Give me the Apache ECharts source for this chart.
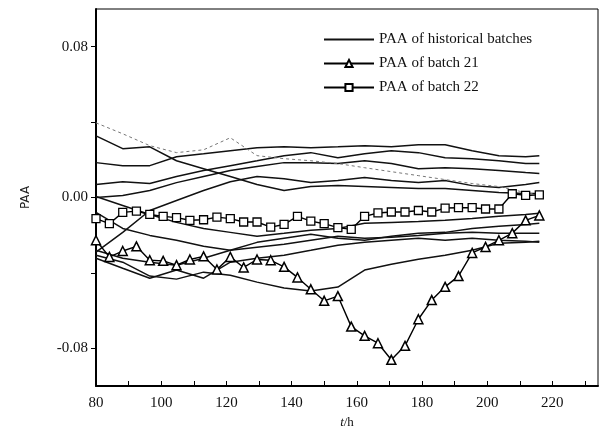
<!DOCTYPE html>
<html>
<head>
<meta charset="utf-8">
<script src="https://cdn.jsdelivr.net/npm/echarts@6/dist/echarts.min.js"></script>
<style>
  html, body { margin: 0; padding: 0; background: #fff; }
  #chart { width: 600px; height: 435px; }
</style>
</head>
<body>
<div id="chart"></div>
<script>
// time points (h) of batches 21 / 22
const times = [80, 84.1, 88.2, 92.4, 96.5, 100.6, 104.7, 108.8, 113, 117.1, 121.2, 125.3,
  129.4, 133.6, 137.7, 141.8, 145.9, 150, 154.2, 158.3, 162.4, 166.5, 170.6, 174.8,
  178.9, 183, 187.1, 191.2, 195.4, 199.5, 203.6, 207.7, 211.8, 216];

const batch21 = [-0.0227, -0.0315, -0.0284, -0.0259, -0.0333, -0.0336, -0.0359, -0.0329,
  -0.0312, -0.0382, -0.0315, -0.0371, -0.0329, -0.0333, -0.0368, -0.0424, -0.0487, -0.0548,
  -0.0523, -0.0685, -0.0734, -0.0773, -0.0861, -0.0787, -0.0646, -0.0544, -0.0474, -0.0417,
  -0.0294, -0.0262, -0.0227, -0.0189, -0.0121, -0.0095];

const batch22 = [-0.0112, -0.0139, -0.0079, -0.0072, -0.0090, -0.0100, -0.0107, -0.0121,
  -0.0118, -0.0104, -0.0112, -0.0130, -0.0130, -0.0157, -0.0143, -0.0100, -0.0125, -0.0139,
  -0.0160, -0.0169, -0.0100, -0.0082, -0.0077, -0.0077, -0.0069, -0.0077, -0.0056, -0.0054,
  -0.0054, -0.0061, -0.0061, 0.0020, 0.0011, 0.0014];

// historical batches, sampled more coarsely
const histTimes = [80, 88.2, 96.5, 104.7, 113, 121.2, 129.4, 137.7, 145.9, 154.2, 162.4,
  170.6, 178.9, 187.1, 195.4, 203.6, 211.8, 216];

const historical = [
  [0.0327, 0.0259, 0.0269, 0.0195, 0.0153, 0.0111, 0.0069, 0.0037, 0.0058, 0.0063, 0.0058, 0.0053, 0.0048, 0.0048, 0.0037, 0.0026, 0.0021, 0.0021],
  [0.0185, 0.0169, 0.0169, 0.0216, 0.0232, 0.0248, 0.0264, 0.0269, 0.0264, 0.0269, 0.0275, 0.0269, 0.0280, 0.0280, 0.0248, 0.0222, 0.0216, 0.0222],
  [0.0069, 0.0084, 0.0074, 0.0111, 0.0143, 0.0169, 0.0195, 0.0222, 0.0238, 0.0211, 0.0232, 0.0248, 0.0238, 0.0211, 0.0206, 0.0195, 0.0180, 0.0180],
  [0.0000, 0.0011, 0.0037, 0.0079, 0.0111, 0.0143, 0.0164, 0.0185, 0.0185, 0.0180, 0.0195, 0.0180, 0.0153, 0.0158, 0.0153, 0.0143, 0.0132, 0.0127],
  [-0.0290, -0.0185, -0.0069, -0.0016, 0.0037, 0.0084, 0.0111, 0.0100, 0.0079, 0.0090, 0.0106, 0.0090, 0.0079, 0.0090, 0.0063, 0.0053, 0.0069, 0.0079],
  [0.0005, -0.0042, -0.0090, -0.0132, -0.0164, -0.0185, -0.0206, -0.0190, -0.0174, -0.0164, -0.0137, -0.0132, -0.0127, -0.0121, -0.0111, -0.0100, -0.0090, -0.0084],
  [-0.0079, -0.0164, -0.0201, -0.0227, -0.0259, -0.0280, -0.0238, -0.0216, -0.0195, -0.0216, -0.0227, -0.0206, -0.0190, -0.0185, -0.0164, -0.0153, -0.0143, -0.0137],
  [-0.0280, -0.0322, -0.0343, -0.0359, -0.0322, -0.0280, -0.0264, -0.0248, -0.0227, -0.0206, -0.0216, -0.0211, -0.0201, -0.0190, -0.0185, -0.0190, -0.0190, -0.0190],
  [-0.0306, -0.0343, -0.0417, -0.0433, -0.0396, -0.0412, -0.0449, -0.0480, -0.0496, -0.0475, -0.0385, -0.0354, -0.0327, -0.0306, -0.0280, -0.0243, -0.0238, -0.0232],
  [-0.0322, -0.0375, -0.0428, -0.0385, -0.0428, -0.0343, -0.0322, -0.0306, -0.0280, -0.0253, -0.0238, -0.0227, -0.0216, -0.0227, -0.0216, -0.0227, -0.0232, -0.0238]
];

// the thin grey dotted historical batch
const histDotted = [0.0396, 0.0338, 0.0275, 0.0238, 0.0253, 0.0317, 0.0222, 0.0206, 0.0195,
  0.0180, 0.0158, 0.0137, 0.0116, 0.0095, 0.0074, 0.0058, 0.0026, 0.0016];

const xLabels = [80, 100, 120, 140, 160, 180, 200, 220];
const xTicks = [80, 90, 100, 110, 120, 130, 140, 150, 160, 170, 180, 190, 200, 210, 220, 230];
const yLabels = [-0.08, 0, 0.08];
const yTicks = [-0.08, -0.04, 0, 0.04, 0.08];

const HIST = 'PAA of historical batches';
const B21 = 'PAA of batch 21';
const B22 = 'PAA of batch 22';
const serif = '"Liberation Serif", "DejaVu Serif", serif';

const pair = (xs, ys) => xs.map((x, i) => [x, ys[i]]);

const series = [];
historical.forEach(vals => {
  series.push({
    name: HIST, type: 'line', symbol: 'none', silent: true,
    data: pair(histTimes, vals),
    lineStyle: { color: '#111', width: 1.5 },
    itemStyle: { color: 'rgba(0,0,0,0)', borderWidth: 0 }
  });
});
series.push({
  name: HIST, type: 'line', symbol: 'none', silent: true,
  data: pair(histTimes, histDotted),
  lineStyle: { color: '#777', width: 1, type: [3, 3] },
  itemStyle: { color: 'rgba(0,0,0,0)', borderWidth: 0 }
});
series.push({
  name: B21, type: 'line', symbol: 'triangle', symbolSize: 9,
  data: pair(times, batch21),
  lineStyle: { color: '#000', width: 1.4 },
  itemStyle: { color: '#fff', borderColor: '#000', borderWidth: 1.5 }
});
series.push({
  name: B22, type: 'line', symbol: 'rect', symbolSize: 8,
  data: pair(times, batch22),
  lineStyle: { color: '#000', width: 1.4 },
  itemStyle: { color: '#fff', borderColor: '#000', borderWidth: 1.3 }
});

const chart = echarts.init(document.getElementById('chart'));
chart.setOption({
  animation: false,
  backgroundColor: '#fff',
  grid: { left: 96, right: 2, top: 9, bottom: 49, show: true, borderColor: '#000', borderWidth: 1 },
  legend: {
    data: [HIST, B21, B22],
    orient: 'vertical',
    left: 318, top: 27,
    itemWidth: 50, itemHeight: 9, itemGap: 9,
    textStyle: { fontFamily: serif, fontSize: 15, color: '#111' }
  },
  xAxis: {
    type: 'value', min: 80, max: 234,
    name: '{i|t}/h', nameLocation: 'middle', nameGap: 30,
    nameTextStyle: {
      fontFamily: serif, fontSize: 13, color: '#111',
      rich: { i: { fontStyle: 'italic', fontFamily: serif, fontSize: 13 } }
    },
    axisLine: { onZero: false, lineStyle: { color: '#000', width: 2 } },
    axisTick: { inside: true, length: 5, customValues: xTicks, lineStyle: { color: '#000' } },
    axisLabel: { customValues: xLabels, margin: 10, fontFamily: serif, fontSize: 15, color: '#111' },
    splitLine: { show: false }
  },
  yAxis: {
    type: 'value', min: -0.1, max: 0.1,
    name: 'PAA', nameLocation: 'middle', nameGap: 64, nameRotate: 90,
    nameTextStyle: { fontFamily: 'DejaVu Sans, sans-serif', fontSize: 12, color: '#222' },
    axisLine: { onZero: false, lineStyle: { color: '#000', width: 2 } },
    axisTick: { length: 5, customValues: yTicks, lineStyle: { color: '#000' } },
    axisLabel: {
      customValues: yLabels, margin: 8, fontFamily: serif, fontSize: 15, color: '#111',
      formatter: v => v.toFixed(2)
    },
    splitLine: { show: false }
  },
  series: series
});
</script>
</body>
</html>
